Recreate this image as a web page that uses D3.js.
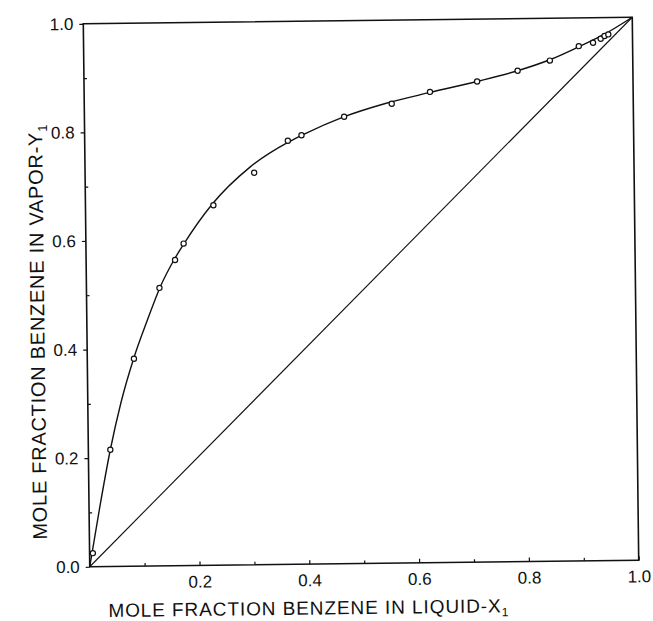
<!DOCTYPE html>
<meta charset='utf-8'>
<title>Benzene vapor-liquid equilibrium</title>
<style>
html, body {
  margin: 0;
  padding: 0;
  background: #fff;
}
text {
  font-family: 'Liberation Sans', Arial, sans-serif;
  fill: #111;
}
</style>
<script src='https://d3js.org/d3.v7.min.js'></script>
<body>
<script>
// Measured points (liquid x1, vapor y1)
var liquidX = [0.006, 0.04, 0.085, 0.133, 0.162, 0.178, 0.233, 0.308, 0.37, 0.395,
               0.473, 0.56, 0.63, 0.716, 0.79, 0.849, 0.902, 0.928, 0.942, 0.949, 0.956];
var vaporY  = [0.025, 0.215, 0.382, 0.512, 0.563, 0.593, 0.663, 0.722, 0.78, 0.79,
               0.823, 0.846, 0.867, 0.885, 0.904, 0.922, 0.948, 0.954, 0.961, 0.966, 0.969];

// Hand-drawn smooth curve
var curveX = [0, 0.02, 0.04, 0.06, 0.085, 0.11, 0.135, 0.16, 0.18, 0.23, 0.30, 0.37,
              0.40, 0.47, 0.55, 0.63, 0.72, 0.79, 0.85, 0.90, 0.95, 1.0];
var curveY = [0, 0.112, 0.215, 0.300, 0.384, 0.452, 0.515, 0.563, 0.595, 0.664, 0.732, 0.777,
              0.792, 0.822, 0.847, 0.866, 0.886, 0.904, 0.924, 0.946, 0.97, 1.0];

// y = x reference line
var diagX = [0, 1];

var majorTicks = [0, 0.2, 0.4, 0.6, 0.8, 1.0];
var minorTicks = [0.1, 0.3, 0.5, 0.7, 0.9];
var xTickLabels = ['', '0.2', '0.4', '0.6', '0.8', '1.0'];
var yTickLabels = ['0.0', '0.2', '0.4', '0.6', '0.8', '1.0'];

var width = 653, height = 621;

var x = d3.scaleLinear().domain([0, 1]).range([86.5, 635.5]);
var y = d3.scaleLinear().domain([0, 1]).range([563.5, 20.5]);

var svg = d3.select('body').append('svg')
  .attr('width', width)
  .attr('height', height);

// the scanned page is a little tilted
var g = svg.append('g')
  .attr('transform', 'rotate(-0.68, 361, 292)');

// Frame
g.append('rect')
  .attr('x', x(0))
  .attr('y', y(1))
  .attr('width', x(1) - x(0))
  .attr('height', y(0) - y(1))
  .attr('fill', 'none')
  .attr('stroke', '#111')
  .attr('stroke-width', 1.6);

// Axes
function styleAxis(sel) {
  sel.select('.domain').remove();
  sel.selectAll('line').attr('stroke', '#111').attr('stroke-width', 1.2);
  sel.selectAll('text')
    .attr('fill', '#111')
    .style('font-size', '17px')
    .style('font-family', "'Liberation Sans', Arial, sans-serif");
}

g.append('g')
  .attr('transform', 'translate(' + x(0) + ',0)')
  .call(d3.axisLeft(y).tickValues(majorTicks).tickSize(4).tickPadding(6)
    .tickFormat(function (d, i) { return yTickLabels[i]; }))
  .call(styleAxis);

g.append('g')
  .attr('transform', 'translate(' + x(0) + ',0)')
  .call(d3.axisLeft(y).tickValues(minorTicks).tickSize(-3).tickFormat(''))
  .call(styleAxis);

g.append('g')
  .attr('transform', 'translate(0,' + y(0) + ')')
  .call(d3.axisBottom(x).tickValues(majorTicks).tickSize(-4).tickPadding(10)
    .tickFormat(function (d, i) { return xTickLabels[i]; }))
  .call(styleAxis);

g.append('g')
  .attr('transform', 'translate(0,' + y(0) + ')')
  .call(d3.axisBottom(x).tickValues(minorTicks).tickSize(-3).tickFormat(''))
  .call(styleAxis);

// Diagonal
g.append('path')
  .datum(diagX)
  .attr('fill', 'none')
  .attr('stroke', '#111')
  .attr('stroke-width', 1.1)
  .attr('d', d3.line().x(function (d) { return x(d); }).y(function (d) { return y(d); }));

// Fitted curve
g.append('path')
  .datum(d3.range(curveX.length))
  .attr('fill', 'none')
  .attr('stroke', '#111')
  .attr('stroke-width', 1.4)
  .attr('d', d3.line()
    .x(function (i) { return x(curveX[i]); })
    .y(function (i) { return y(curveY[i]); })
    .curve(d3.curveMonotoneX));

// Data points
g.selectAll('circle.pt')
  .data(d3.range(liquidX.length))
  .enter()
    .append('circle')
    .attr('class', 'pt')
    .attr('cx', function (i) { return x(liquidX[i]); })
    .attr('cy', function (i) { return y(vaporY[i]); })
    .attr('r', 2.6)
    .attr('fill', '#fff')
    .attr('stroke', '#111')
    .attr('stroke-width', 1.2);

// Axis titles, spread out to the lettering width of the original
function spreadTo(textSel, target) {
  var node = textSel.node();
  var len = node.getComputedTextLength();
  var n = node.textContent.length;
  textSel.style('letter-spacing', ((target - len) / (n - 1)) + 'px');
}

var xTitle = g.append('text')
  .attr('x', 305)
  .attr('y', 614)
  .attr('text-anchor', 'middle')
  .style('font-size', '19px');
xTitle.append('tspan').text('MOLE FRACTION BENZENE IN LIQUID-X');
xTitle.append('tspan').attr('dy', 4).style('font-size', '12px').text('1');
spreadTo(xTitle, 400);

var yTitle = g.append('text')
  .attr('transform', 'translate(44,328)rotate(-90)')
  .attr('text-anchor', 'middle')
  .style('font-size', '20px');
yTitle.append('tspan').text('MOLE FRACTION BENZENE IN VAPOR-Y');
yTitle.append('tspan').attr('dy', 5).style('font-size', '13px').text('1');
spreadTo(yTitle, 415);
</script>
</body>
